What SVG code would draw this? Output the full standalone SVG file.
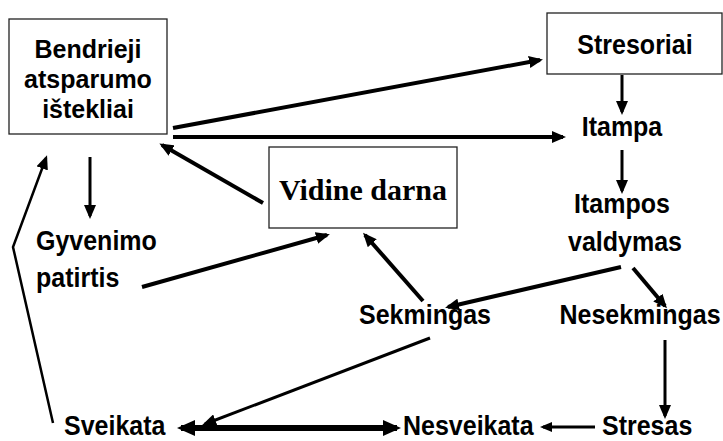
<svg xmlns="http://www.w3.org/2000/svg" width="723" height="441" viewBox="0 0 723 441">
<style>
.t{font-family:"Liberation Sans",Arial,sans-serif;font-weight:bold;font-size:25px;fill:#000}
.m{text-anchor:middle}
.ts{font-family:"Liberation Serif","Times New Roman",serif;font-weight:bold;font-size:30px;fill:#000}
.box{fill:#fff;stroke:#222;stroke-width:1.3}
.c{fill:none;stroke:#000;stroke-linecap:butt}
</style>
<defs>
<marker id="ah" markerWidth="14" markerHeight="12" refX="11" refY="6" orient="auto" markerUnits="userSpaceOnUse"><path d="M0,0 L14,6 L0,12 z" fill="#000"/></marker>
<marker id="ahs" markerWidth="12" markerHeight="10" refX="9" refY="5" orient="auto" markerUnits="userSpaceOnUse"><path d="M0,0 L12,5 L0,10 z" fill="#000"/></marker>
<marker id="ahb" markerWidth="18" markerHeight="16" refX="14" refY="8" orient="auto-start-reverse" markerUnits="userSpaceOnUse"><path d="M0,0 L18,8 L0,16 z" fill="#000"/></marker>
</defs>
<rect width="723" height="441" fill="#fff"/>
<g id="bendrieji"><rect class="box" x="9" y="19" width="158" height="115"/>
<text class="t m" transform="translate(88,58) scale(1,1.05)">Bendrieji</text>
<text class="t m" transform="translate(88,88) scale(1,1.05)">atsparumo</text>
<text class="t m" transform="translate(88,118) scale(1,1.05)">ištekliai</text></g>
<g id="stresoriai"><rect class="box" x="547" y="13" width="175" height="61"/>
<text class="t m" transform="translate(635,54) scale(1,1.1)">Stresoriai</text></g>
<g id="vidine"><rect class="box" x="269" y="147" width="188" height="81"/>
<text class="ts m" x="363" y="200">Vidine darna</text></g>
<g id="itampa"><text class="t m" transform="translate(622,136) scale(1,1.1)">Itampa</text></g>
<g id="itampos"><text class="t m" transform="translate(622,213) scale(1,1.1)">Itampos</text>
<text class="t m" transform="translate(625,251) scale(1,1.1)">valdymas</text></g>
<g id="gyvenimo"><text class="t" transform="translate(36,250) scale(1,1.1)">Gyvenimo</text>
<text class="t" transform="translate(36,287) scale(1,1.1)">patirtis</text></g>
<g id="sekmingas"><text class="t m" transform="translate(425,324) scale(1,1.1)">Sekmingas</text></g>
<g id="nesekmingas"><text class="t m" transform="translate(640,324) scale(1,1.1)">Nesekmingas</text></g>
<g id="sveikata"><text class="t" transform="translate(64,435) scale(1,1.1)">Sveikata</text></g>
<g id="nesveikata"><text class="t" transform="translate(403,435) scale(1,1.1)">Nesveikata</text></g>
<g id="stresas"><text class="t" transform="translate(602,435) scale(1,1.1)">Stresas</text></g>
<g id="connectors">
<line class="c" stroke-width="4" x1="173" y1="128" x2="540" y2="60" marker-end="url(#ah)"/>
<line class="c" stroke-width="4" x1="173" y1="137" x2="563" y2="137" marker-end="url(#ah)"/>
<line class="c" stroke-width="3" x1="622" y1="75" x2="622" y2="112" marker-end="url(#ah)"/>
<line class="c" stroke-width="3" x1="622" y1="150" x2="622" y2="191" marker-end="url(#ah)"/>
<line class="c" stroke-width="3" x1="90" y1="157" x2="90" y2="216" marker-end="url(#ah)"/>
<line class="c" stroke-width="4" x1="263" y1="203" x2="162" y2="145" marker-end="url(#ah)"/>
<line class="c" stroke-width="4" x1="142" y1="287" x2="327" y2="235" marker-end="url(#ah)"/>
<line class="c" stroke-width="4" x1="423" y1="301" x2="365" y2="235" marker-end="url(#ah)"/>
<line class="c" stroke-width="4" x1="621" y1="267" x2="448" y2="307" marker-end="url(#ah)"/>
<line class="c" stroke-width="4" x1="633" y1="268" x2="665" y2="306" marker-end="url(#ah)"/>
<line class="c" stroke-width="3" x1="430" y1="338" x2="205" y2="424" marker-end="url(#ah)"/>
<line class="c" stroke-width="3" x1="665" y1="340" x2="665" y2="416" marker-end="url(#ah)"/>
<line class="c" stroke-width="6" x1="181" y1="428" x2="397" y2="428" marker-start="url(#ahb)" marker-end="url(#ahb)"/>
<line class="c" stroke-width="3" x1="595" y1="427" x2="543" y2="427" marker-end="url(#ahs)"/>
<polyline class="c" stroke-width="2.5" points="53,423 13,247 46,158" marker-end="url(#ah)"/>
</g>
</svg>
